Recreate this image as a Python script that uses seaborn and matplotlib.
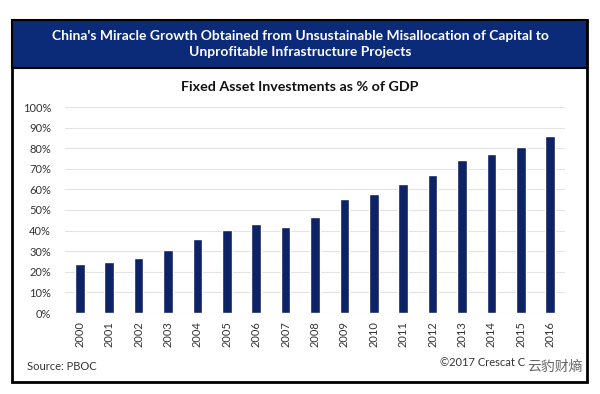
import matplotlib
matplotlib.use("Agg")
import matplotlib.pyplot as plt
import seaborn as sns
import pandas as pd
from matplotlib.patches import Rectangle
from matplotlib.ticker import PercentFormatter

# data
years = [str(y) for y in range(2000, 2017)]
fai_pct = [23.8, 24.7, 26.9, 30.8, 35.7, 40.4, 43.0, 41.7, 46.7, 55.2,
           57.6, 62.8, 67.2, 74.2, 77.1, 80.8, 85.9]

df = pd.DataFrame({"year": years, "pct": fai_pct})

sns.set_theme(style="white")
plt.rcParams['font.family'] = ['Lato', 'Noto Sans CJK SC', 'DejaVu Sans']

navy = "#0e2266"
fig = plt.figure(figsize=(6, 3.94), dpi=100)

# outer frame and header band
fig.patches.append(Rectangle((12/600, 1-382/394), 575/600, 362/394, transform=fig.transFigure,
                             facecolor="white", edgecolor="black", linewidth=2, zorder=-2))
fig.patches.append(Rectangle((12/600, 1-68/394), 575/600, 48/394, transform=fig.transFigure,
                             facecolor="#0b2a78", edgecolor="black", linewidth=1.5, zorder=-1))
fig.text(0.5, 1-44/394,
         "China's Miracle Growth Obtained from Unsustainable Misallocation of Capital to\nUnprofitable Infrastructure Projects",
         ha="center", va="center", color="white", fontsize=10, fontweight="bold", linespacing=1.3)
fig.text(0.5, 1-87/394, "Fixed Asset Investments as % of GDP", ha="center", va="center",
         fontsize=10.3, fontweight="bold", color="#111111")

ax = fig.add_axes([65/600, 1-313/394, 500/600, 206/394])
ax.patch.set_alpha(0)
sns.barplot(data=df, x="year", y="pct", color=navy, saturation=1, width=0.33, ax=ax)
ax.set_ylim(0, 100)
ax.set_yticks(range(0, 101, 10))
ax.yaxis.set_major_formatter(PercentFormatter(decimals=0))
ax.grid(axis="y", color="#e3e3e3", linewidth=0.8)
ax.set_axisbelow(True)
for s in ax.spines.values():
    s.set_visible(False)
ax.set_xlabel("")
ax.set_ylabel("")
ax.tick_params(axis="x", rotation=90, labelsize=8, length=0, pad=6, colors="#333333")
ax.tick_params(axis="y", labelsize=8, length=0, pad=10, colors="#333333")

fig.text(27/600, 1-367/394, "Source: PBOC", ha="left", va="center", fontsize=8, color="#333333")
fig.text(440/600, 1-362/394, "©2017 Crescat C", ha="left", va="center", fontsize=8, color="#333333")
fig.text(583/600, 1-366/394, "云豹财熵", ha="right", va="center", fontsize=10, color="#666666",
         bbox=dict(facecolor="white", edgecolor="none", pad=1))

fig.savefig("out.png", dpi=100)
